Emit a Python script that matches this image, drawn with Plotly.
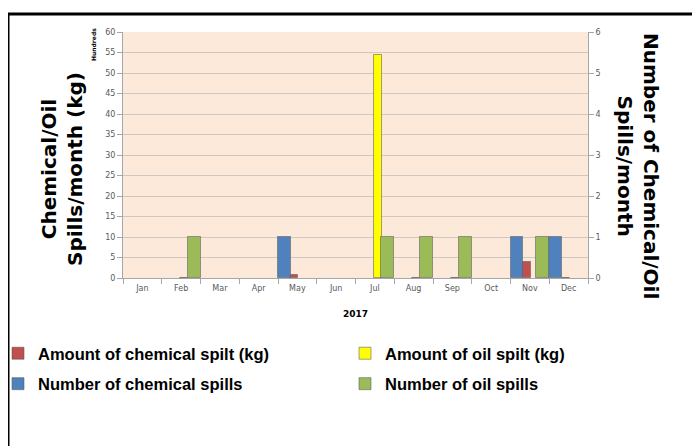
import plotly.graph_objects as go

# ---------------- data ----------------
months = ["Jan", "Feb", "Mar", "Apr", "May", "Jun",
          "Jul", "Aug", "Sep", "Oct", "Nov", "Dec"]
chemical_kg = [0, 0, 0, 0, 70, 0, 0, 0, 0, 0, 390, 10]
oil_kg = [0, 10, 0, 0, 0, 0, 5430, 10, 10, 0, 0, 0]
chemical_count = [0, 0, 0, 0, 1, 0, 0, 0, 0, 0, 1, 1]
oil_count = [0, 1, 0, 0, 0, 0, 1, 1, 1, 0, 1, 0]

left_tickvals = [0, 500, 1000, 1500, 2000, 2500, 3000, 3500, 4000, 4500, 5000, 5500, 6000]
left_ticktext = ["0", "5", "10", "15", "20", "25", "30", "35", "40", "45", "50", "55", "60"]
right_tickvals = [0, 1, 2, 3, 4, 5, 6]

RED = "#C0504D"
YELLOW = "#FFFF00"
BLUE = "#4F81BD"
GREEN = "#9BBB59"
EDGE = "rgba(90,90,90,0.55)"

W, H = 700, 446
OX, OY = 8, 8            # page offset of the figure inside the browser window
L, T = 115, 24
PW, PH = 465, 246
R = W - L - PW
B = H - T - PH


def px_x(sx):
    """screen x -> paper x"""
    return (sx - OX - L) / PW


def px_y(sy):
    """screen y -> paper y"""
    return (T + PH - (sy - OY)) / PH


def nz(values):
    # months without any spill draw no bar at all (as in the original chart)
    return [v if v else None for v in values]


LEG_FONT = dict(family="Liberation Sans, Arial, sans-serif", size=16.5,
                color="#000000", weight="bold")

fig = go.Figure()
fig.add_trace(go.Bar(x=months, y=nz(chemical_kg), name="Amount of chemical spilt (kg)",
                     marker=dict(color=RED, line=dict(color=EDGE, width=1)),
                     offset=-0.18, width=0.205, yaxis="y", legend="legend",
                     legendgroup="a"))
fig.add_trace(go.Bar(x=months, y=nz(oil_kg), name="Amount of oil spilt (kg)",
                     marker=dict(color=YELLOW, line=dict(color=EDGE, width=1)),
                     offset=-0.03, width=0.205, yaxis="y", legend="legend2",
                     legendgroup="b"))
fig.add_trace(go.Bar(x=months, y=nz(chemical_count), name="Number of chemical spills",
                     marker=dict(color=BLUE, line=dict(color=EDGE, width=1)),
                     offset=-0.5, width=0.335, yaxis="y2", legend="legend",
                     legendgroup="c"))
fig.add_trace(go.Bar(x=months, y=nz(oil_count), name="Number of oil spills",
                     marker=dict(color=GREEN, line=dict(color=EDGE, width=1)),
                     offset=0.165, width=0.335, yaxis="y2", legend="legend2",
                     legendgroup="d"))

tick_font = dict(family="DejaVu Sans, Verdana, sans-serif", size=8, color="#595959")

fig.update_layout(
    width=W, height=H,
    margin=dict(l=L, r=R, t=T, b=B, pad=0, autoexpand=False),
    paper_bgcolor="#FFFFFF",
    plot_bgcolor="#FDE9D9",
    barmode="overlay",
    bargap=0,
    showlegend=True,
    xaxis=dict(
        type="category",
        tickfont=tick_font,
        showline=True, linecolor="#A6A6A6", linewidth=1,
        ticks="outside", tickson="boundaries", ticklen=5, tickcolor="#A6A6A6",
        ticklabelstandoff=2,
        showgrid=False,
        title=dict(text="<b>2017</b>", font=dict(family="DejaVu Sans, Verdana, sans-serif",
                                                size=9, color="#000000"), standoff=19),
    ),
    yaxis=dict(
        range=[0, 6000],
        tickvals=left_tickvals, ticktext=left_ticktext,
        tickfont=tick_font,
        showline=True, linecolor="#A6A6A6", linewidth=1,
        ticks="outside", ticklen=5, tickcolor="#A6A6A6",
        showgrid=True, gridcolor="#CFC8C2", gridwidth=1,
        zeroline=False,
    ),
    yaxis2=dict(
        range=[0, 6], overlaying="y", side="right",
        tickvals=right_tickvals,
        tickfont=tick_font,
        showline=True, linecolor="#A6A6A6", linewidth=1,
        ticks="outside", ticklen=5, tickcolor="#A6A6A6",
        showgrid=False, zeroline=False,
    ),
    legend=dict(
        x=px_x(-2), y=px_y(336), xanchor="left", yanchor="top",
        orientation="v", font=LEG_FONT, bgcolor="rgba(0,0,0,0)",
        traceorder="grouped", tracegroupgap=6,
    ),
    legend2=dict(
        x=px_x(345), y=px_y(336), xanchor="left", yanchor="top",
        orientation="v", font=LEG_FONT, bgcolor="rgba(0,0,0,0)",
        traceorder="grouped", tracegroupgap=6,
    ),
)

title_font = dict(family="DejaVu Sans, Verdana, sans-serif", size=20, color="#000000")

fig.add_annotation(text="<b>Chemical/Oil<br>Spills/month (kg)</b>",
                   xref="paper", yref="paper", x=px_x(62), y=px_y(169),
                   xanchor="center", yanchor="middle", textangle=-90,
                   showarrow=False, font=title_font)
fig.add_annotation(text="<b>Number of Chemical/Oil<br>Spills/month</b>",
                   xref="paper", yref="paper", x=px_x(638), y=px_y(166),
                   xanchor="center", yanchor="middle", textangle=90,
                   showarrow=False, font=title_font)
fig.add_annotation(text="<b>Hundreds</b>",
                   xref="paper", yref="paper", x=px_x(93), y=px_y(45),
                   xanchor="center", yanchor="middle", textangle=-90,
                   showarrow=False,
                   font=dict(family="DejaVu Sans, Verdana, sans-serif", size=6, color="#000000"))

# outer frame (only top and left edges are visible in the picture)
fig.add_shape(type="rect", xref="paper", yref="paper",
              x0=px_x(8), x1=px_x(730), y0=px_y(480), y1=px_y(14),
              line=dict(color="#000000", width=3), fillcolor="rgba(0,0,0,0)", layer="above")

fig.write_html("out.html")
